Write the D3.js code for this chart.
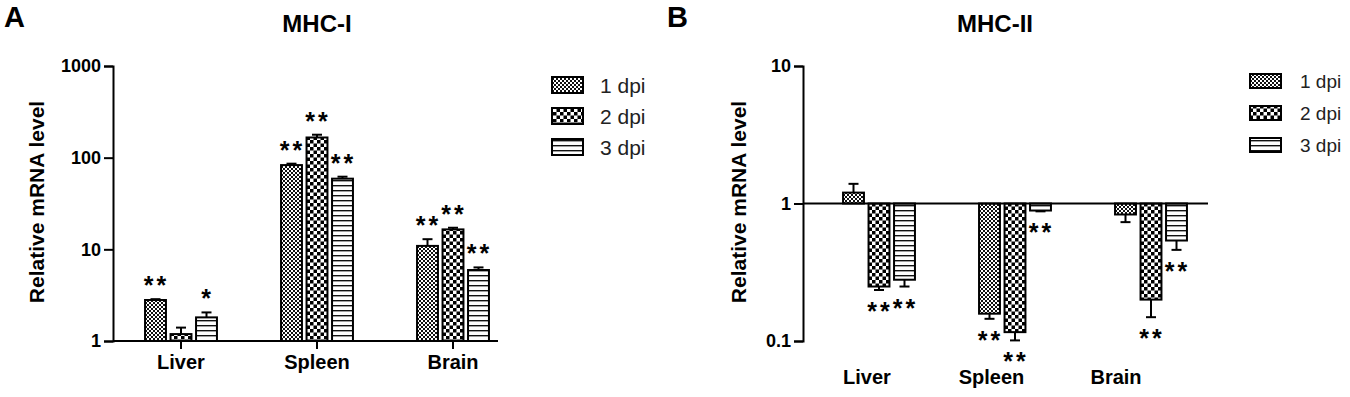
<!DOCTYPE html>
<html>
<head>
<meta charset="utf-8">
<script src="https://cdn.jsdelivr.net/npm/d3@7"></script>
<style>
  body { margin: 0; background: #fff; }
  svg text { font-family: "Liberation Sans", Arial, sans-serif; }
</style>
</head>
<body>
<div id="chart"></div>
<script>
// categories and series
var categories = ["Liver", "Spleen", "Brain"];
var series = ["1 dpi", "2 dpi", "3 dpi"];

// MHC-I (panel A), rows = categories, cols = series
var mhc1Values = [[2.8, 1.19, 1.81], [83, 166, 59], [10.9, 16.5, 5.95]];
var mhc1Sem = [[0.06, 0.21, 0.24], [3, 12, 3], [2.0, 0.7, 0.4]];
var mhc1Stars = [["**", "", "*"], ["**", "**", "**"], ["**", "**", "**"]];
var mhc1Ticks = [1, 10, 100, 1000];

// MHC-II (panel B)
var mhc2Values = [[1.2, 0.249, 0.279], [0.158, 0.116, 0.889], [0.832, 0.2, 0.538]];
var mhc2Sem = [[0.19, 0.014, 0.03], [0.013, 0.015, 0.012], [0.1, 0.051, 0.078]];
var mhc2Stars = [["", "**", "**"], ["**", "**", "**"], ["", "**", "**"]];
var mhc2Ticks = [0.1, 1, 10];

var width = 1350, height = 397;
var svg = d3.select("#chart").append("svg")
	.attr("width", width)
	.attr("height", height);

// fill patterns
var defs = svg.append("defs");
var p1 = defs.append("pattern").attr("id", "pat0")
	.attr("patternUnits", "userSpaceOnUse").attr("width", 4).attr("height", 4);
p1.append("rect").attr("width", 4).attr("height", 4).attr("fill", "#111");
p1.append("rect").attr("width", 2).attr("height", 2).attr("fill", "#fff");
p1.append("rect").attr("x", 2).attr("y", 2).attr("width", 2).attr("height", 2).attr("fill", "#fff");

var p2 = defs.append("pattern").attr("id", "pat1")
	.attr("patternUnits", "userSpaceOnUse").attr("width", 7).attr("height", 7);
p2.append("rect").attr("width", 7).attr("height", 7).attr("fill", "#fff");
p2.append("rect").attr("width", 3.5).attr("height", 3.5).attr("fill", "#000");
p2.append("rect").attr("x", 3.5).attr("y", 3.5).attr("width", 3.5).attr("height", 3.5).attr("fill", "#000");

var p3 = defs.append("pattern").attr("id", "pat2")
	.attr("patternUnits", "userSpaceOnUse").attr("width", 5).attr("height", 5);
p3.append("rect").attr("width", 5).attr("height", 5).attr("fill", "#fff");
p3.append("rect").attr("y", 0).attr("width", 5).attr("height", 1.4).attr("fill", "#111");

var panels = [
	{
		letter: "A", letterX: 4, title: "MHC-I", titleX: 317,
		values: mhc1Values, sem: mhc1Sem, stars: mhc1Stars, ticks: mhc1Ticks,
		domain: [1, 1000], axisX: 113, axisEnd: 498, groupStart: 113,
		base: 1, labelX: 37, catTicks: true, catLabelRange: null, catBaseline: 368,
		legendX: 552, legendTextX: 600, legendY: [77, 108, 139], swatchH: 16, legendFont: 21
	},
	{
		letter: "B", letterX: 667, title: "MHC-II", titleX: 995,
		values: mhc2Values, sem: mhc2Sem, stars: mhc2Stars, ticks: mhc2Ticks,
		domain: [0.1, 10], axisX: 803, axisEnd: 1208, groupStart: 811,
		base: 1, labelX: 739, catTicks: false, catLabelRange: [867, 1116], catBaseline: 384,
		legendX: 1250, legendTextX: 1300, legendY: [74, 106, 138], swatchH: 14, legendFont: 19
	}
];

panels.forEach(function (p) {
	var g = svg.append("g");
	var y = d3.scaleLog().domain(p.domain).range([341, 66]);
	var x0 = d3.scaleBand().domain(categories)
		.range([p.groupStart, p.groupStart + 136 * categories.length]);
	var x1 = d3.scaleBand().domain(series)
		.range([-38.25, 38.25]).paddingInner(0.18).paddingOuter(0.09);

	g.append("text").text(p.letter)
		.attr("x", p.letterX).attr("y", 27)
		.attr("font-size", 29).attr("font-weight", "bold");
	g.append("text").text(p.title)
		.attr("x", p.titleX).attr("y", 32).attr("text-anchor", "middle")
		.attr("font-size", 24).attr("font-weight", "bold");

	// bars
	var groups = g.selectAll(".grp").data(categories).enter().append("g")
		.attr("transform", function (d) { return "translate(" + (x0(d) + x0.bandwidth() / 2) + ",0)"; });

	groups.each(function (cat, ci) {
		var gg = d3.select(this);
		series.forEach(function (s, si) {
			var v = p.values[ci][si];
			var e = p.sem[ci][si];
			var up = v >= p.base;
			var end = up ? v + e : v - e;
			var bx = x1(s), bw = x1.bandwidth();
			var yTop = Math.min(y(v), y(p.base)), yBot = Math.max(y(v), y(p.base));
			// error bar
			gg.append("line")
				.attr("x1", bx + bw / 2).attr("x2", bx + bw / 2)
				.attr("y1", y(v)).attr("y2", y(end))
				.attr("stroke", "#000").attr("stroke-width", 2);
			gg.append("line")
				.attr("x1", bx + bw / 2 - 5).attr("x2", bx + bw / 2 + 5)
				.attr("y1", y(end)).attr("y2", y(end))
				.attr("stroke", "#000").attr("stroke-width", 2);
			gg.append("rect")
				.attr("x", bx).attr("y", yTop)
				.attr("width", bw).attr("height", yBot - yTop)
				.attr("fill", "url(#pat" + si + ")")
				.attr("stroke", "#000").attr("stroke-width", 2);
			var star = p.stars[ci][si];
			if (star) {
				var cy = up ? y(end) - 19 : y(end) + 16;
				gg.append("text").text(star)
					.attr("x", bx + bw / 2 + 1).attr("y", cy + 14)
					.attr("text-anchor", "middle")
					.attr("font-size", 25).attr("font-weight", "bold")
					.attr("letter-spacing", 3);
			}
		});
	});

	// y axis
	var yAxis = g.append("g").attr("transform", "translate(" + p.axisX + ",0)")
		.call(d3.axisLeft(y).tickValues(p.ticks).tickFormat(function (d) { return String(d); })
			.tickSizeOuter(0).tickSize(9).tickPadding(3));
	yAxis.select(".domain").attr("stroke-width", 2);
	yAxis.selectAll(".tick line").attr("stroke-width", 2);
	yAxis.selectAll("text").attr("font-size", 18).attr("font-weight", "bold")
		.attr("font-family", "Liberation Sans, Arial, sans-serif").attr("fill", "#000");

	// x baseline
	g.append("line")
		.attr("x1", p.axisX).attr("x2", p.axisEnd)
		.attr("y1", y(p.base)).attr("y2", y(p.base))
		.attr("stroke", "#000").attr("stroke-width", 2);

	// category labels
	if (p.catTicks) {
		var xAxis = g.append("g").attr("transform", "translate(0," + y(p.base) + ")")
			.call(d3.axisBottom(x0).tickSize(8).tickPadding(6));
		xAxis.select(".domain").remove();
		xAxis.selectAll(".tick line").attr("stroke-width", 2);
		xAxis.selectAll("text").attr("font-size", 20).attr("font-weight", "bold")
			.attr("font-family", "Liberation Sans, Arial, sans-serif").attr("fill", "#000");
	} else {
		var xl = d3.scalePoint().domain(categories).range(p.catLabelRange);
		g.selectAll(".cat").data(categories).enter().append("text")
			.text(function (d) { return d; })
			.attr("x", function (d) { return xl(d); })
			.attr("y", p.catBaseline)
			.attr("text-anchor", "middle")
			.attr("font-size", 20).attr("font-weight", "bold");
	}

	g.append("text").text("Relative mRNA level")
		.attr("transform", "translate(" + (p.labelX + 7) + ",202) rotate(-90)")
		.attr("text-anchor", "middle")
		.attr("font-size", 21).attr("font-weight", "bold");

	// legend
	series.forEach(function (s, si) {
		g.append("rect")
			.attr("x", p.legendX).attr("y", p.legendY[si])
			.attr("width", 31).attr("height", p.swatchH)
			.attr("fill", "url(#pat" + si + ")")
			.attr("stroke", "#000").attr("stroke-width", 2);
		g.append("text").text(s)
			.attr("x", p.legendTextX).attr("y", p.legendY[si] + p.swatchH / 2)
			.attr("dy", "0.36em")
			.attr("font-size", p.legendFont).attr("fill", "#222");
	});
});
</script>
</body>
</html>
